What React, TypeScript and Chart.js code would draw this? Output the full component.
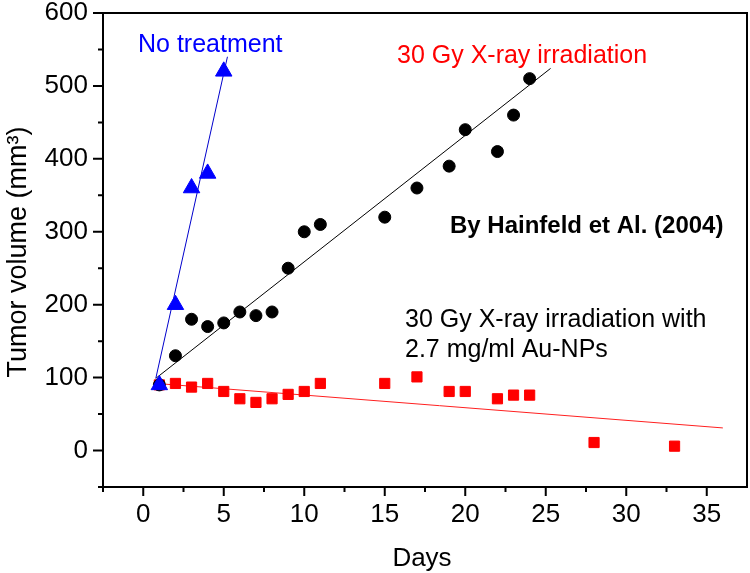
import React, { useEffect, useRef } from 'react';
import { Chart, registerables } from 'chart.js';

Chart.register(...registerables);

// ---- data ----
const noTreatmentDays = [1, 2, 3, 4, 5];
const noTreatmentVolume = [90, 200, 360, 380, 520];

const xrayDays = [1, 2, 3, 4, 5, 6, 7, 8, 9, 10, 11, 15, 17, 19, 20, 22, 23, 24];
const xrayVolume = [90, 130, 180, 170, 175, 190, 185, 190, 250, 300, 310, 320, 360, 390, 440, 410, 460, 510];

const auDays = [1, 2, 3, 4, 5, 6, 7, 8, 9, 10, 11, 15, 17, 19, 20, 22, 23, 24, 28, 33];
const auVolume = [90, 92, 87, 92, 81, 71, 66, 71, 77, 81, 92, 92, 101, 81, 81, 71, 76, 76, 11, 6];

// fitted lines (end points)
const noTreatmentFitDays = [0.78, 5.23];
const noTreatmentFitVolume = [99, 540];
const xrayFitDays = [0.78, 25.3];
const xrayFitVolume = [99, 524];
const auFitDays = [0.8, 36];
const auFitVolume = [92, 31];

// axes
const xMin = -2.5;
const xMax = 37.5;
const yMin = -50;
const yMax = 600;
const xMajorTicks = [0, 5, 10, 15, 20, 25, 30, 35];
const xMinorTicks = [-2.5, 2.5, 7.5, 12.5, 17.5, 22.5, 27.5, 32.5];
const yMajorTicks = [0, 100, 200, 300, 400, 500, 600];
const yMinorTicks = [-50, 50, 150, 250, 350, 450, 550];

const xTitle = 'Days';
const yTitle = 'Tumor volume (mm³)';

const FONT = '"Liberation Sans", Arial, Helvetica, sans-serif';

const toPoints = (xs: number[], ys: number[]) => xs.map((x, i) => ({ x, y: ys[i] }));

const decorPlugin = {
  id: 'decor',
  afterDraw(chart: any) {
    const { ctx, chartArea } = chart;
    const { left, right, top, bottom } = chartArea;
    const xs = chart.scales.x;
    const ys = chart.scales.y;
    ctx.save();
    ctx.strokeStyle = '#000';
    ctx.lineWidth = 2;
    ctx.lineCap = 'butt';
    // frame
    ctx.beginPath();
    ctx.moveTo(left, top);
    ctx.lineTo(right, top);
    ctx.lineTo(right, bottom);
    ctx.lineTo(left, bottom);
    ctx.closePath();
    ctx.stroke();
    // x ticks
    ctx.beginPath();
    xMajorTicks.forEach((v) => {
      const px = xs.getPixelForValue(v);
      ctx.moveTo(px, bottom);
      ctx.lineTo(px, bottom + 9);
    });
    xMinorTicks.forEach((v) => {
      const px = xs.getPixelForValue(v);
      ctx.moveTo(px, bottom);
      ctx.lineTo(px, bottom + 5);
    });
    // y ticks
    yMajorTicks.forEach((v) => {
      const py = ys.getPixelForValue(v);
      ctx.moveTo(left, py);
      ctx.lineTo(left - 10, py);
    });
    yMinorTicks.forEach((v) => {
      const py = ys.getPixelForValue(v);
      ctx.moveTo(left, py);
      ctx.lineTo(left - 5, py);
    });
    ctx.stroke();

    // axis titles
    ctx.fillStyle = '#000';
    ctx.font = `26px ${FONT}`;
    ctx.textAlign = 'center';
    ctx.textBaseline = 'alphabetic';
    ctx.fillText(xTitle, (left + right) / 2 - 3, 566);
    ctx.save();
    ctx.font = `27px ${FONT}`;
    ctx.translate(26, (top + bottom) / 2 + 2);
    ctx.rotate(-Math.PI / 2);
    ctx.fillText(yTitle, 0, 0);
    ctx.restore();

    // annotations
    ctx.textAlign = 'left';
    ctx.font = `25px ${FONT}`;
    ctx.fillStyle = '#0000ff';
    ctx.fillText('No treatment', 138, 52);
    ctx.fillStyle = '#ff0000';
    ctx.fillText('30 Gy X-ray irradiation', 397, 63);
    ctx.fillStyle = '#000';
    ctx.font = `bold 24px ${FONT}`;
    ctx.fillText('By Hainfeld et Al. (2004)', 450, 233);
    ctx.font = `25px ${FONT}`;
    ctx.fillText('30 Gy X-ray irradiation with', 405, 327);
    ctx.fillText('2.7 mg/ml Au-NPs', 405, 357);
    ctx.restore();
  },
};

export default function App() {
  const canvasRef = useRef<HTMLCanvasElement | null>(null);

  useEffect(() => {
    document.body.style.margin = '0';
    document.body.style.overflow = 'hidden';
    const canvas = canvasRef.current;
    if (!canvas) return;
    const chart = new Chart(canvas, {
      type: 'scatter',
      data: {
        datasets: [
          {
            label: 'No treatment',
            data: toPoints(noTreatmentDays, noTreatmentVolume),
            pointStyle: 'triangle',
            pointRadius: 9.5,
            backgroundColor: '#0000ff',
            borderColor: '#0000ff',
            borderWidth: 1,
            order: 0,
          },
          {
            label: '30 Gy X-ray irradiation',
            data: toPoints(xrayDays, xrayVolume),
            pointStyle: 'circle',
            pointRadius: 6,
            backgroundColor: '#000000',
            borderColor: '#000000',
            borderWidth: 1,
            order: 1,
          },
          {
            label: '30 Gy X-ray irradiation with 2.7 mg/ml Au-NPs',
            data: toPoints(auDays, auVolume),
            pointStyle: 'rect',
            pointRadius: 7.2,
            backgroundColor: '#ff0000',
            borderColor: '#ff0000',
            borderWidth: 1,
            order: 2,
          },
          {
            label: 'No treatment fit',
            data: toPoints(noTreatmentFitDays, noTreatmentFitVolume),
            showLine: true,
            pointRadius: 0,
            borderColor: '#0000cc',
            borderWidth: 1,
            order: 3,
          },
          {
            label: 'X-ray fit',
            data: toPoints(xrayFitDays, xrayFitVolume),
            showLine: true,
            pointRadius: 0,
            borderColor: '#000000',
            borderWidth: 1,
            order: 4,
          },
          {
            label: 'Au-NP fit',
            data: toPoints(auFitDays, auFitVolume),
            showLine: true,
            pointRadius: 0,
            borderColor: '#ff2020',
            borderWidth: 1,
            order: 5,
          },
        ],
      },
      options: {
        animation: false,
        responsive: false,
        maintainAspectRatio: false,
        layout: { autoPadding: false, padding: { top: 13, right: 3, left: 0, bottom: 0 } },
        plugins: {
          legend: { display: false },
          tooltip: { enabled: false },
        },
        scales: {
          x: {
            type: 'linear',
            min: xMin,
            max: xMax,
            grid: { display: false, drawTicks: false },
            border: { display: false },
            afterBuildTicks: (scale: any) => {
              scale.ticks = xMajorTicks.map((value) => ({ value }));
            },
            afterFit: (scale: any) => {
              scale.height = 86;
              scale.paddingLeft = 0;
              scale.paddingRight = 0;
              scale.paddingTop = 0;
              scale.paddingBottom = 0;
            },
            ticks: {
              autoSkip: false,
              maxRotation: 0,
              padding: 12,
              color: '#000',
              font: { family: FONT, size: 26 },
            },
          },
          y: {
            type: 'linear',
            min: yMin,
            max: yMax,
            grid: { display: false, drawTicks: false },
            border: { display: false },
            afterBuildTicks: (scale: any) => {
              scale.ticks = yMajorTicks.map((value) => ({ value }));
            },
            afterFit: (scale: any) => {
              scale.width = 103;
              scale.paddingLeft = 0;
              scale.paddingRight = 0;
              scale.paddingTop = 0;
              scale.paddingBottom = 0;
            },
            ticks: {
              autoSkip: false,
              padding: 15,
              color: '#000',
              font: { family: FONT, size: 26 },
            },
          },
        },
      },
      plugins: [decorPlugin],
    });
    return () => chart.destroy();
  }, []);

  return (
    <div style={{ position: 'absolute', left: 0, top: 0, width: 750, height: 573 }}>
      <canvas ref={canvasRef} width={750} height={573} />
    </div>
  );
}
